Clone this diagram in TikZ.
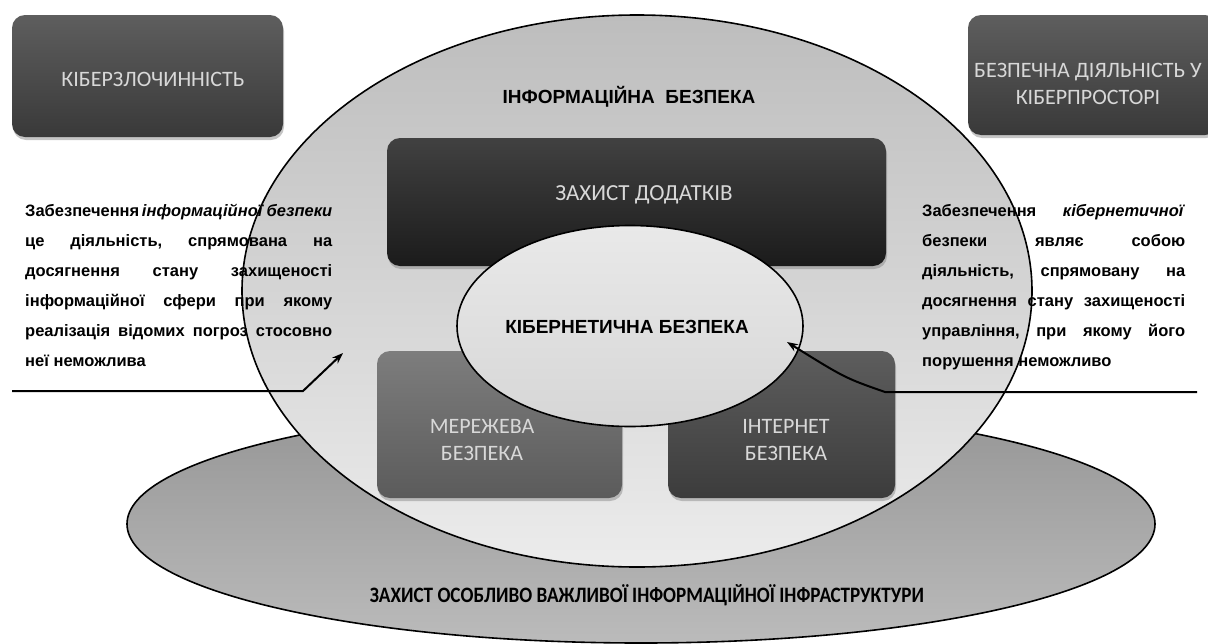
\documentclass[tikz,border=0pt]{standalone}
\usepackage{fontspec}
\usepackage{graphicx}
\setmainfont{Liberation Sans}
\newfontfamily\carl{Carlito}
\usetikzlibrary{shapes.geometric,shadows,arrows.meta}

\definecolor{infotop}{HTML}{BDBDBD}
\definecolor{infobot}{HTML}{ECECEC}
\definecolor{infratop}{HTML}{959595}
\definecolor{infrabot}{HTML}{BBBBBB}
\definecolor{cybtop}{HTML}{E9E9E9}
\definecolor{cybbot}{HTML}{D6D6D6}
\definecolor{crimetop}{HTML}{5E5E5E}
\definecolor{crimebot}{HTML}{393939}
\definecolor{apptop}{HTML}{414141}
\definecolor{appbot}{HTML}{1B1B1B}
\definecolor{nettop}{HTML}{7D7D7D}
\definecolor{netbot}{HTML}{5B5B5B}
\definecolor{inettop}{HTML}{5D5D5D}
\definecolor{inetbot}{HTML}{3C3C3C}
\definecolor{boxfg}{HTML}{D8D8D8}

\begin{document}
\begin{tikzpicture}[x=1pt,y=-1pt,
  region/.style={ellipse, draw=black, line width=1.6pt, inner sep=0pt},
  tile/.style={rectangle, rounded corners=13pt, inner sep=0pt,
    drop shadow={opacity=0.45, shadow xshift=1pt, shadow yshift=-3pt}},
  tiletext/.style={text=boxfg, font=\carl\fontsize{22}{27}\selectfont, align=center},
  headline/.style={text=black, font=\fontsize{19}{22}\selectfont\bfseries},
  paraline/.style={anchor=base west, inner sep=0pt, text=black,
    font=\fontsize{16.5}{30}\selectfont\bfseries},
  conn/.style={line width=2pt, draw=black, line join=miter},
  tip/.style={-{Stealth[length=11pt, width=8pt]}}]

\clip (0,0) rectangle (1208,643);
\fill[white] (0,0) rectangle (1208,643);

% outer layers: critical infrastructure, then information security
\node[region, top color=infratop, bottom color=infrabot,
      minimum width=1028pt, minimum height=238pt] (infra) at (641,524) {};
\node[region, top color=infotop, bottom color=infobot,
      minimum width=790pt, minimum height=552pt] (info) at (637,291) {};

% the two headline boxes at the top
\node[tile, top color=crimetop, bottom color=crimebot,
      minimum width=271pt, minimum height=122pt] (crime) at (147.5,76) {};
\node[tiletext] (crimetxt) at (153,79) {КІБЕРЗЛОЧИННІСТЬ};

\node[tile, top color=crimetop, bottom color=crimebot,
      minimum width=250pt, minimum height=120pt] (safe) at (1093,75) {};
\node[tiletext] (safetxt) at (1088,84) {БЕЗПЕЧНА ДІЯЛЬНІСТЬ У\\КІБЕРПРОСТОРІ};

% inner components
\node[tile, top color=apptop, bottom color=appbot,
      minimum width=499pt, minimum height=128pt] (apps) at (636.5,202) {};
\node[tiletext, font=\carl\fontsize{23}{27}\selectfont] (appstxt) at (644,195) {ЗАХИСТ ДОДАТКІВ};

\node[tile, top color=nettop, bottom color=netbot,
      minimum width=245pt, minimum height=147pt] (net) at (499.5,424.5) {};
\node[tiletext] (nettxt) at (482,440) {МЕРЕЖЕВА\\БЕЗПЕКА};

\node[tile, top color=inettop, bottom color=inetbot,
      minimum width=227pt, minimum height=147pt] (inet) at (781.5,424.5) {};
\node[tiletext] (inettxt) at (786,440) {ІНТЕРНЕТ\\БЕЗПЕКА};

\node[region, top color=cybtop, bottom color=cybbot,
      minimum width=346pt, minimum height=201pt] (cyb) at (630,326) {};
\node[headline] (cybtxt) at (627,327) {КІБЕРНЕТИЧНА БЕЗПЕКА};

% layer captions
\node[headline] (infotxt) at (629,97) {ІНФОРМАЦІЙНА\ \ БЕЗПЕКА};
\node[text=black, font=\carl\fontsize{22}{26}\selectfont\bfseries] (infratxt) at (647,595)
  {\scalebox{0.87}[1]{ЗАХИСТ ОСОБЛИВО ВАЖЛИВОЇ ІНФОРМАЦІЙНОЇ ІНФРАСТРУКТУРИ}};

% definition on the left
\node[paraline] (l1) at (25,216) {\hbox to 307pt{Забезпечення\hfill\textit{інформаційної}\hfill\textit{безпеки}}};
\node[paraline] (l2) at (25,246) {\hbox to 307pt{це\hfill діяльність,\hfill спрямована\hfill на}};
\node[paraline] (l3) at (25,276) {\hbox to 307pt{досягнення\hfill стану\hfill захищеності}};
\node[paraline] (l4) at (25,306) {\hbox to 307pt{інформаційної\hfill сфери\hfill при\hfill якому}};
\node[paraline] (l5) at (25,336) {\hbox to 307pt{реалізація\hfill відомих\hfill погроз\hfill стосовно}};
\node[paraline] (l6) at (25,366) {неї неможлива};

% definition on the right
\node[paraline] (r1) at (922,216) {\hbox to 263pt{Забезпечення\hfill\textit{кібернетичної}}};
\node[paraline] (r2) at (922,246) {\hbox to 263pt{безпеки\hfill являє\hfill собою}};
\node[paraline] (r3) at (922,276) {\hbox to 263pt{діяльність,\hfill спрямовану\hfill на}};
\node[paraline] (r4) at (922,306) {\hbox to 263pt{досягнення\hfill стану\hfill захищеності}};
\node[paraline] (r5) at (922,336) {\hbox to 263pt{управління,\hfill при\hfill якому\hfill його}};
\node[paraline] (r6) at (922,366) {порушення неможливо};

% pointers from the definitions
\coordinate (lstart) at (12,391);
\coordinate (lbend) at (303,391);
\coordinate (ltip) at (343,353);
\draw[conn, tip] (lstart) -- (lbend) -- (ltip);

\coordinate (rstart) at (1197,392);
\coordinate (rbend) at (885,392);
\coordinate (rtip) at (787,342);
\draw[conn, tip] (rstart) -- (rbend) .. controls (845,378) .. (rtip);
\end{tikzpicture}
\end{document}
